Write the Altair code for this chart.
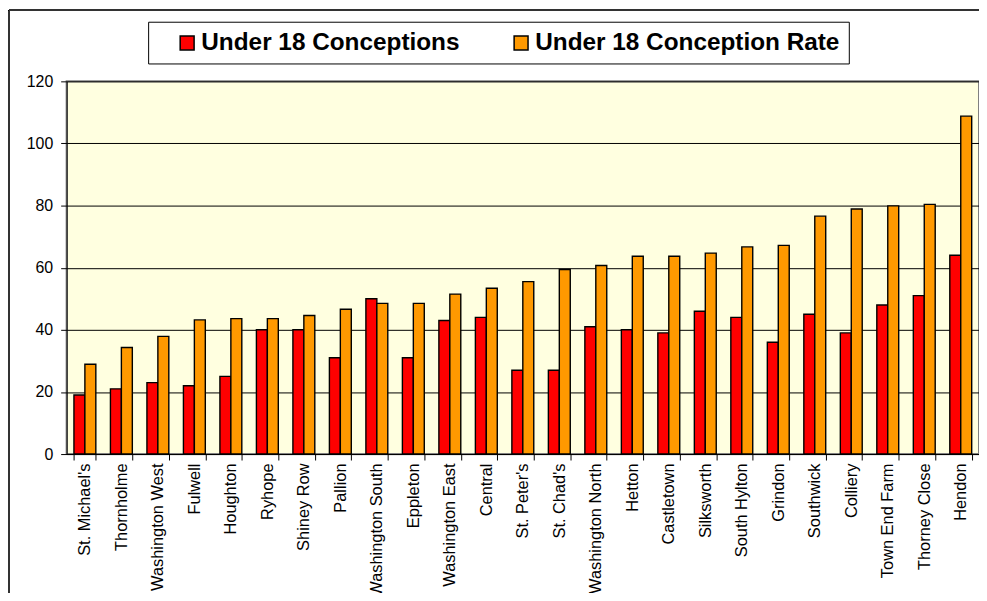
import altair as alt
import pandas as pd

areas = ["St. Michael's", "Thornholme", "Washington West", "Fulwell", "Houghton",
         "Ryhope", "Shiney Row", "Pallion", "Washington South", "Eppleton",
         "Washington East", "Central", "St. Peter's", "St. Chad's", "Washington North",
         "Hetton", "Castletown", "Silksworth", "South Hylton", "Grindon",
         "Southwick", "Colliery", "Town End Farm", "Thorney Close", "Hendon"]
conceptions = [19, 21, 23, 22, 25, 40, 40, 31, 50, 31, 43, 44, 27, 27, 41,
               40, 39, 46, 44, 36, 45, 39, 48, 51, 64]
rate = [28.9, 34.3, 37.9, 43.2, 43.6, 43.6, 44.6, 46.6, 48.5, 48.5, 51.5, 53.4,
        55.5, 59.4, 60.7, 63.7, 63.7, 64.7, 66.7, 67.2, 76.6, 78.9, 79.9, 80.4, 108.8]
series = ["Under 18 Conceptions", "Under 18 Conception Rate"]
colors = ["#FF0000", "#FF9900"]
y_ticks = [0, 20, 40, 60, 80, 100, 120]

rows = []
for a, c, r in zip(areas, conceptions, rate):
    rows.append({"area": a, "series": series[0], "value": c})
    rows.append({"area": a, "series": series[1], "value": r})
df = pd.DataFrame(rows)

W, H = 918, 375
FONT = "Liberation Sans, Arial"

bars = alt.Chart(df).mark_bar(stroke="black", strokeWidth=1.4).encode(
    x=alt.X("area:N", sort=areas, title=None,
            scale=alt.Scale(paddingInner=0.4, paddingOuter=0.2),
            axis=alt.Axis(labelAngle=270, labelFontSize=16.5, labelFont=FONT,
                          labelColor="black", tickBand="extent", tickSize=6,
                          tickColor="black", domainColor="black", labelPadding=3,
                          grid=False, labelLimit=300)),
    xOffset=alt.XOffset("series:N", sort=series, scale=alt.Scale(paddingInner=0, paddingOuter=0)),
    y=alt.Y("value:Q", title=None,
            scale=alt.Scale(domain=[0, 120], nice=False),
            axis=alt.Axis(values=y_ticks, labelFontSize=16, labelFont=FONT,
                          labelColor="black", tickSize=6, tickColor="black",
                          domainColor="black", gridColor="black", gridWidth=1,
                          labelPadding=8)),
    fill=alt.Fill("series:N", sort=series,
                  scale=alt.Scale(domain=series, range=colors),
                  legend=alt.Legend(title=None, orient="none", legendX=82, legendY=-60,
                                    direction="horizontal", strokeColor="black",
                                    fillColor="white", padding=9,
                                    labelFontSize=24.5, labelFontWeight="bold",
                                    labelFont=FONT, labelColor="black",
                                    symbolType="square", symbolSize=196,
                                    symbolStrokeColor="black", symbolStrokeWidth=1.5,
                                    symbolOffset=18, columnPadding=31,
                                    labelOffset=2, labelLimit=400)),
)

frame_left = alt.Chart(df).mark_rule(color="#333333", strokeWidth=1.5).encode(
    x=alt.value(-58), y=alt.value(-71.5), y2=alt.value(H + 160))
frame_top = alt.Chart(df).mark_rule(color="#333333", strokeWidth=1.5).encode(
    x=alt.value(-58), x2=alt.value(W + 20), y=alt.value(-71.5))

chart = alt.layer(bars, frame_left, frame_top).properties(
    width=W, height=H,
    autosize=alt.AutoSizeParams(type="none"),
    padding={"left": 59, "top": 72, "right": 0, "bottom": 138},
    background="white",
).configure_view(
    fill="#FFFFE0", stroke="#808080", strokeWidth=2
)

chart.save("out.html", embed_options={"renderer": "svg", "actions": False})
